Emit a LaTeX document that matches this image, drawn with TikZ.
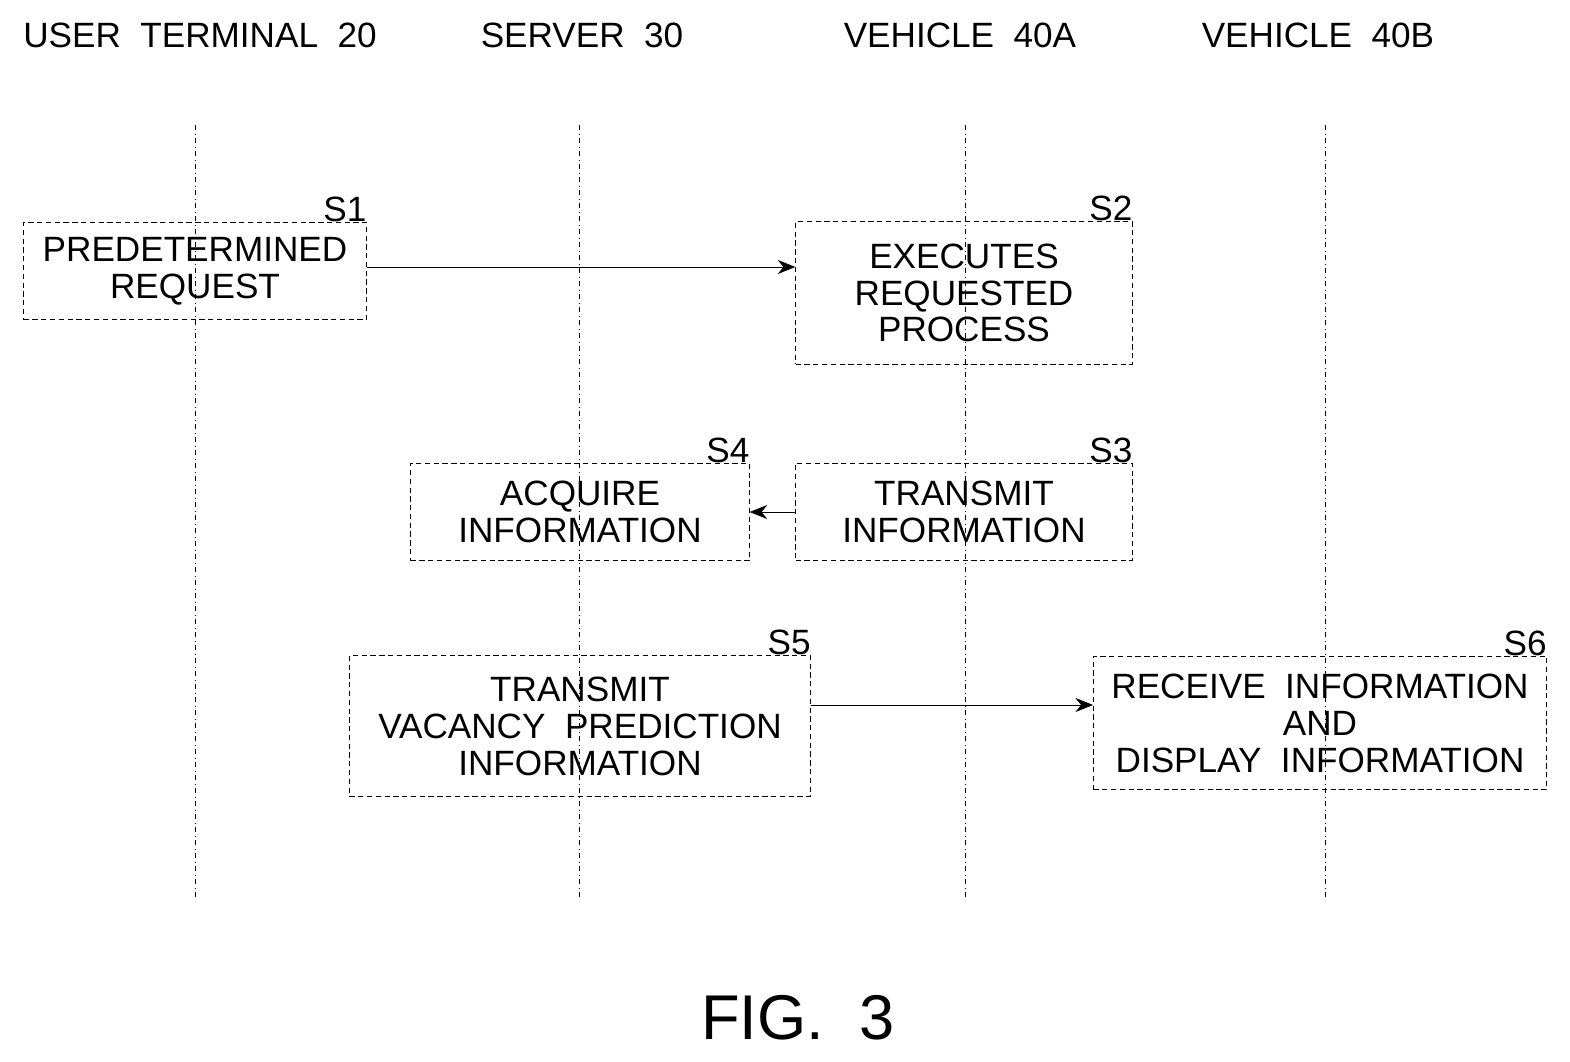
\documentclass[tikz,border=0pt]{standalone}
\usepackage{fontspec}
\setmainfont{Liberation Sans}
\usetikzlibrary{arrows.meta}
\begin{document}
\begin{tikzpicture}[x=0.02cm, y=-0.02cm,
    every node/.style={font=\fontsize{20}{21}\selectfont, align=center, inner sep=0pt},
    step/.style={draw, densely dashed, thin, minimum height=#1},
    lifeline/.style={dash dot, very thin},
    msg/.style={-{Stealth[length=10pt,width=8pt]}, thin},
    lbl/.style={anchor=south east}
]
\useasboundingbox (0,0) rectangle (1570,1062);
% headers
\node (h20) at (200,35) {USER\ \ TERMINAL\ \ 20};
\node (h30) at (582,35) {SERVER\ \ 30};
\node (h40a) at (960,35) {VEHICLE\ \ 40A};
\node (h40b) at (1318,35) {VEHICLE\ \ 40B};
% lifelines
\foreach \x/\n in {195/a, 579/b, 965/c, 1325/d}
  \draw[lifeline] (\x,125) coordinate (top\n) -- (\x,900) coordinate (bot\n);
% steps
\node[step=98pt*0.567, minimum width=344*0.567pt] (s1) at (195,271) {PREDETERMINED\\REQUEST};
\node[lbl] at (s1.north east) {S1};
\node[step=143*0.567pt, minimum width=338*0.567pt] (s2) at (964,293) {EXECUTES\\REQUESTED\\PROCESS};
\node[lbl] at (s2.north east) {S2};
\node[step=98*0.567pt, minimum width=338*0.567pt] (s3) at (964,512) {TRANSMIT\\INFORMATION};
\node[lbl] at (s3.north east) {S3};
\node[step=98*0.567pt, minimum width=340*0.567pt] (s4) at (580,512) {ACQUIRE\\INFORMATION};
\node[lbl] at (s4.north east) {S4};
\node[step=141*0.567pt, minimum width=463*0.567pt] (s5) at (580,726) {TRANSMIT\\VACANCY\ \ PREDICTION\\INFORMATION};
\node[lbl] at (s5.north east) {S5};
\node[step=134*0.567pt, minimum width=455*0.567pt] (s6) at (1320,723) {RECEIVE\ \ INFORMATION\\AND\\DISPLAY\ \ INFORMATION};
\node[lbl] at (s6.north east) {S6};
% messages
\draw[msg] (s1.east |- 0,267) -- (s2.west |- 0,267);
\draw[msg] (s3.west) -- (s4.east);
\draw[msg] (s5.east |- 0,705) -- (s6.west |- 0,705);
% caption
\node[font=\fontsize{36}{38}\selectfont] (fig) at (798,1018) {FIG.\ \ 3};
\end{tikzpicture}
\end{document}
